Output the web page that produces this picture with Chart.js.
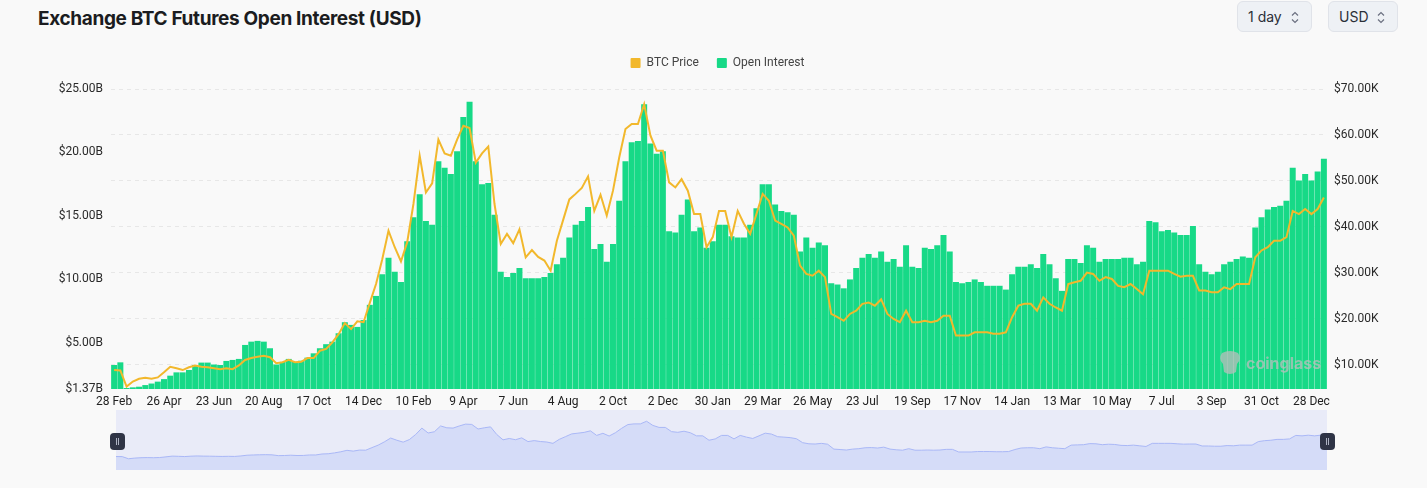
<!DOCTYPE html>
<html>
<head>
<meta charset="utf-8">
<script src="https://cdn.jsdelivr.net/npm/chart.js@4.4.1/dist/chart.umd.min.js"></script>
<style>
  html, body { margin: 0; padding: 0; background: #f9f9f9; width: 1427px; height: 488px; overflow: hidden;
    font-family: Inter, "Noto Sans", sans-serif; }
  #title { position: absolute; left: 38px; top: 7px; font-size: 19px; font-weight: 700; color: #1b1c20; letter-spacing: -0.35px; }
  .sel { position: absolute; top: 1px; height: 31px; box-sizing: border-box; border: 1px solid #e0e3e9; background: #eef1f5;
    border-radius: 6px; font-size: 14px; color: #2b2f38; line-height: 29px; padding-left: 10px; }
  .sel svg { position: absolute; right: 12px; top: 9px; }
  #mainWrap { position: absolute; left: 0; top: 31px; }
  #miniWrap { position: absolute; left: 116px; top: 410px; width: 1211px; height: 60px; background: #e9ebf8; }
  .handle { position: absolute; top: 433px; width: 15px; height: 17px; border-radius: 4px; background: #2f3446; }
  .handle::before, .handle::after { content: ""; position: absolute; top: 5px; width: 1px; height: 7px; background: #aeb3c4; }
  .handle::before { left: 6px; } .handle::after { left: 8px; }
  #wm { position: absolute; left: 1218px; top: 351px; color: rgba(188,188,188,0.75); font-size: 16px; font-weight: 700; }
  #wm span { position: absolute; left: 28px; top: 2px; }
</style>
</head>
<body>
<div id="title">Exchange BTC Futures Open Interest (USD)</div>
<div class="sel" style="left:1237px;width:75px;">1 day
  <svg width="8" height="13" viewBox="0 0 8 13"><path d="M1 4.5 L4 1.5 L7 4.5 M1 8.5 L4 11.5 L7 8.5" fill="none" stroke="#6b7080" stroke-width="1.2"/></svg></div>
<div class="sel" style="left:1328px;width:70px;">USD
  <svg width="8" height="13" viewBox="0 0 8 13"><path d="M1 4.5 L4 1.5 L7 4.5 M1 8.5 L4 11.5 L7 8.5" fill="none" stroke="#6b7080" stroke-width="1.2"/></svg></div>

<div id="mainWrap"><canvas id="main" width="1427" height="379"></canvas></div>
<div id="miniWrap"><canvas id="mini" width="1211" height="60"></canvas></div>
<div class="handle" style="left:110px;"></div>
<div class="handle" style="left:1320px;"></div>
<div id="wm">
  <svg width="24" height="26" viewBox="0 0 24 26" style="position:absolute;left:0;top:-1px">
    <path d="M4 3 Q12 -1 20 3 Q24 9 19 14 L18 22 Q12 26 6 22 L5 14 Q0 9 4 3 Z" fill="rgba(188,188,188,0.75)"/>
  </svg>
  <span>coinglass</span>
</div>

<script>
// weekly samples (~7.3 days), 28 Feb 2020 -> mid Jan 2024
var tickLabels = ['28 Feb', '26 Apr', '23 Jun', '20 Aug', '17 Oct', '14 Dec', '10 Feb', '9 Apr', '7 Jun',
  '4 Aug', '2 Oct', '2 Dec', '30 Jan', '29 Mar', '26 May', '23 Jul', '19 Sep', '17 Nov', '14 Jan',
  '13 Mar', '10 May', '7 Jul', '3 Sep', '31 Oct', '28 Dec'];

// open interest, billions USD
var openInterest = [
  3.26, 3.47, 1.45, 1.5, 1.55, 1.68, 1.8, 1.95, 2.15, 2.42,
  2.68, 2.68, 2.87, 3.26, 3.45, 3.45, 3.3, 3.26, 3.58, 3.66,
  3.74, 4.84, 5.1, 5.16, 5.1, 4.58, 3.3, 3.5, 3.74, 3.5,
  3.6, 3.84, 4.18, 4.58, 4.9, 5.1, 5.76, 6.63, 6.42, 6.26,
  6.8, 8.0, 8.7, 10.4, 11.7, 10.6, 9.8, 13.0, 14.9, 16.7,
  14.6, 14.3, 19.3, 18.8, 18.3, 20.1, 22.8, 24.0, 19.3, 17.5,
  17.6, 15.1, 10.6, 10.2, 10.5, 10.9, 10.1, 10.1, 10.1, 10.2,
  10.5, 11.2, 11.7, 13.3, 14.3, 14.6, 15.7, 12.4, 12.8, 11.4,
  12.8, 16.2, 19.3, 20.8, 20.9, 23.8, 20.7, 19.9, 20.1, 13.8,
  13.7, 15.1, 16.3, 13.8, 14.1, 12.5, 13.0, 14.3, 14.3, 13.4,
  13.3, 13.3, 14.3, 15.6, 17.5, 17.5, 15.9, 15.4, 15.3, 15.1,
  12.2, 13.3, 12.5, 12.9, 12.7, 9.7, 9.6, 9.3, 10.0, 10.9,
  11.7, 12.0, 11.7, 12.2, 11.4, 11.6, 11.0, 12.7, 11.0, 10.9,
  12.5, 12.4, 12.7, 13.5, 12.2, 9.8, 9.7, 9.8, 10.0, 9.8,
  9.5, 9.5, 9.5, 9.2, 10.4, 11.0, 11.0, 11.2, 10.9, 12.0,
  11.2, 10.1, 9.1, 11.6, 11.6, 11.3, 12.7, 12.5, 11.4, 11.6,
  11.6, 11.6, 11.7, 11.7, 11.2, 11.4, 14.6, 14.5, 13.8, 13.9,
  13.7, 13.5, 13.5, 14.2, 11.2, 10.6, 10.4, 10.6, 11.2, 11.4,
  11.6, 11.8, 11.7, 14.1, 14.9, 15.5, 15.7, 15.8, 16.2, 18.8,
  17.8, 18.3, 17.8, 18.5, 19.5
];

// BTC price, thousands USD
var btcPrice = [
  8.9, 8.8, 5.3, 6.4, 7.0, 7.2, 7.0, 7.3, 8.4, 9.6,
  9.3, 8.9, 9.5, 9.9, 9.6, 9.5, 9.3, 9.1, 9.3, 9.1,
  9.9, 11.1, 11.5, 11.8, 12.0, 11.7, 10.4, 10.6, 11.1, 10.6,
  10.7, 11.5, 11.5, 13.1, 13.5, 14.9, 16.7, 19.1, 17.8, 19.5,
  19.3, 23.5, 27.6, 33.0, 39.2, 35.6, 32.5, 36.7, 45.0, 55.5,
  47.5, 49.5, 59.0, 56.0, 55.5, 59.0, 62.0, 61.5, 54.0, 56.0,
  57.5, 45.0, 36.3, 38.5, 36.5, 39.5, 33.4, 35.0, 33.5, 32.7,
  30.5, 37.0, 41.5, 46.0, 47.2, 48.5, 51.0, 43.5, 47.0, 42.5,
  47.9, 55.1, 61.3, 62.4, 62.4, 66.7, 59.9, 56.6, 56.6, 49.7,
  48.6, 50.4, 47.9, 42.8, 42.8, 35.6, 37.8, 43.5, 43.5, 37.8,
  43.5, 40.7, 38.5, 42.8, 47.2, 45.7, 41.4, 40.7, 39.9, 38.1,
  31.6, 29.8, 29.4, 30.5, 29.1, 21.1, 20.4, 19.6, 21.1, 21.8,
  23.3, 23.6, 22.9, 24.3, 21.1, 20.0, 19.3, 21.8, 19.3, 19.3,
  19.6, 19.3, 19.6, 20.7, 20.7, 16.4, 16.4, 16.4, 17.1, 17.1,
  17.1, 16.8, 16.8, 17.1, 20.4, 22.9, 23.3, 23.3, 21.8, 24.7,
  23.3, 22.5, 21.8, 27.6, 28.0, 28.3, 30.1, 29.8, 28.3, 29.1,
  28.7, 27.2, 26.9, 27.6, 26.5, 25.4, 30.5, 30.5, 30.5, 30.5,
  29.8, 29.2, 29.4, 29.4, 26.2, 26.2, 25.8, 25.8, 26.9, 26.5,
  27.6, 27.6, 27.6, 33.4, 34.9, 35.6, 37.0, 37.0, 37.8, 43.5,
  42.8, 43.9, 42.8, 43.9, 46.4
];

var oiTicks = [1.37, 5, 10, 15, 20, 25];
var priceTicks = [10, 20, 30, 40, 50, 60, 70];

// one tick label every 8 samples, blanks in between
var categories = [];
for (var i = 0; i < btcPrice.length; i++) {
  categories.push(i % 8 === 0 ? tickLabels[i / 8] : '');
}

Chart.defaults.font.family = 'Roboto, "Noto Sans", sans-serif';
Chart.defaults.font.size = 12;
Chart.defaults.color = '#2a2a2a';

var legendGap = {
  id: 'legendGap',
  beforeUpdate: function (chart) {
    if (chart.legend && !chart.legend._gapPatched) {
      var fit = chart.legend.fit;
      chart.legend.fit = function () {
        fit.call(this);
        this.height += 10;
      };
      chart.legend._gapPatched = true;
    }
  }
};

var mainChart = new Chart(document.getElementById('main'), {
  data: {
    labels: categories,
    datasets: [{
      type: 'line',
      label: 'BTC Price',
      data: btcPrice,
      yAxisID: 'yPrice',
      borderColor: '#f2b82c',
      backgroundColor: '#f2b82c',
      borderWidth: 2,
      pointRadius: 0,
      tension: 0,
      order: 0
    }, {
      type: 'bar',
      label: 'Open Interest',
      data: openInterest,
      yAxisID: 'yOI',
      backgroundColor: '#17d987',
      borderWidth: 0,
      barPercentage: 1,
      categoryPercentage: 0.96,
      order: 1
    }]
  },
  options: {
    responsive: false,
    animation: false,
    layout: { padding: { top: 8, left: 8, right: 0, bottom: 0 } },
    plugins: {
      tooltip: { enabled: false },
      legend: {
        position: 'top',
        labels: {
          boxWidth: 10,
          boxHeight: 10,
          padding: 18,
          color: '#444',
          useBorderRadius: true,
          borderRadius: 1,
          generateLabels: function (chart) {
            var items = Chart.defaults.plugins.legend.labels.generateLabels(chart);
            items.forEach(function (it) {
              it.lineWidth = 0;
              it.fillStyle = chart.data.datasets[it.datasetIndex].backgroundColor;
            });
            return items;
          }
        }
      }
    },
    scales: {
      x: {
        grid: { display: false, drawTicks: false },
        border: { display: false },
        ticks: { autoSkip: false, maxRotation: 0, padding: 6, color: '#222' },
        afterFit: function (s) { s.height = 21; }
      },
      yOI: {
        position: 'left',
        min: 1.37,
        max: 25,
        grid: { display: false, drawTicks: false },
        border: { display: false },
        ticks: {
          padding: 8,
          callback: function (v) { return '$' + v.toFixed(2) + 'B'; }
        },
        afterBuildTicks: function (s) { s.ticks = oiTicks.map(function (v) { return { value: v }; }); },
        afterFit: function (s) { s.width = 103; }
      },
      yPrice: {
        position: 'right',
        min: 4.78,
        max: 70,
        grid: { color: '#e7e7e7', drawTicks: false },
        border: { display: false, dash: [4, 4] },
        ticks: {
          padding: 7,
          callback: function (v) { return '$' + v.toFixed(2) + 'K'; }
        },
        afterBuildTicks: function (s) { s.ticks = priceTicks.map(function (v) { return { value: v }; }); },
        afterFit: function (s) { s.width = 100; }
      }
    }
  },
  plugins: [legendGap]
});

// slider preview of the price series
var pMin = Math.min.apply(null, btcPrice), pMax = Math.max.apply(null, btcPrice);
var pPad = (pMax - pMin) * 0.3;
var miniChart = new Chart(document.getElementById('mini'), {
  type: 'line',
  data: {
    labels: categories,
    datasets: [{
      data: btcPrice,
      borderColor: '#a9b7f6',
      backgroundColor: '#d5dcf8',
      borderWidth: 1,
      pointRadius: 0,
      fill: 'start',
      tension: 0
    }]
  },
  options: {
    responsive: false,
    animation: false,
    layout: { padding: 0 },
    plugins: { legend: { display: false }, tooltip: { enabled: false } },
    scales: {
      x: { display: false },
      y: { display: false, min: pMin - pPad, max: pMax + pPad }
    }
  }
});
</script>
</body>
</html>
